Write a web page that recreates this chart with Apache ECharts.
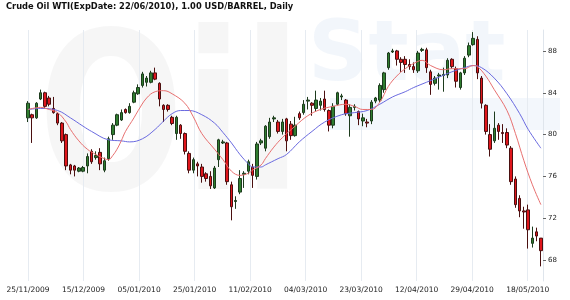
<!DOCTYPE html>
<html><head><meta charset="utf-8">
<script src="https://cdn.jsdelivr.net/npm/echarts@6/dist/echarts.min.js"></script>
<style>html,body{margin:0;padding:0;background:#fff}#c{width:570px;height:300px}</style>
</head><body><div id="c"></div>
<script>
const titleText = 'Crude Oil WTI(ExpDate: 22/06/2010), 1.00 USD/BARREL, Daily';
const dates = ['25/11/2009','27/11/2009','30/11/2009','01/12/2009','02/12/2009','03/12/2009','04/12/2009','07/12/2009','08/12/2009','09/12/2009',
'10/12/2009','11/12/2009','14/12/2009','15/12/2009','16/12/2009','17/12/2009','18/12/2009','21/12/2009','22/12/2009','23/12/2009',
'24/12/2009','28/12/2009','29/12/2009','30/12/2009','31/12/2009','04/01/2010','05/01/2010','06/01/2010','07/01/2010','08/01/2010',
'11/01/2010','12/01/2010','13/01/2010','14/01/2010','15/01/2010','19/01/2010','20/01/2010','21/01/2010','22/01/2010','25/01/2010',
'26/01/2010','27/01/2010','28/01/2010','29/01/2010','01/02/2010','02/02/2010','03/02/2010','04/02/2010','05/02/2010','08/02/2010',
'09/02/2010','10/02/2010','11/02/2010','12/02/2010','16/02/2010','17/02/2010','18/02/2010','19/02/2010','22/02/2010','23/02/2010',
'24/02/2010','25/02/2010','26/02/2010','01/03/2010','02/03/2010','03/03/2010','04/03/2010','05/03/2010','08/03/2010','09/03/2010',
'10/03/2010','11/03/2010','12/03/2010','15/03/2010','16/03/2010','17/03/2010','18/03/2010','19/03/2010','22/03/2010','23/03/2010',
'24/03/2010','25/03/2010','26/03/2010','29/03/2010','30/03/2010','31/03/2010','01/04/2010','05/04/2010','06/04/2010','07/04/2010',
'08/04/2010','09/04/2010','12/04/2010','13/04/2010','14/04/2010','15/04/2010','16/04/2010','19/04/2010','20/04/2010','21/04/2010',
'22/04/2010','23/04/2010','26/04/2010','27/04/2010','28/04/2010','29/04/2010','30/04/2010','03/05/2010','04/05/2010','05/05/2010',
'06/05/2010','07/05/2010','10/05/2010','11/05/2010','12/05/2010','13/05/2010','14/05/2010','17/05/2010','18/05/2010','19/05/2010',
'20/05/2010','21/05/2010'];
const open = [81.6,81.9,81.6,83.4,84.0,83.5,82.5,82.0,81.1,80.0,
77.1,77.0,76.5,76.5,77.0,78.4,77.8,78.3,76.6,77.7,
80.0,80.9,81.4,82.4,82.1,83.1,83.9,84.7,85.0,85.0,
85.9,84.9,82.8,82.8,81.65,80.1,80.9,80.1,78.2,76.6,
77.2,76.9,76.25,76.0,74.9,77.6,79.2,79.2,75.2,73.6,
74.5,76.2,76.5,76.9,76.0,79.2,78.7,79.8,81.5,81.2,
80.3,81.5,81.0,79.9,82.0,82.1,83.2,83.0,82.5,82.8,
83.4,82.3,80.9,82.9,83.6,83.3,81.8,82.6,82.2,81.3,
81.2,81.3,83.2,83.3,84.3,86.4,87.9,88.0,87.2,87.2,
86.7,86.5,86.1,88.05,88.1,86.0,84.9,85.6,85.65,85.7,
87.2,86.3,84.5,85.9,87.6,88.6,89.1,85.4,82.8,80.0,
79.4,80.9,80.2,80.2,78.7,75.75,73.9,72.7,72.8,69.6,
70.7,70.1];
const close = [83.0,81.6,83.0,84.0,82.7,82.9,82.1,81.1,79.4,77.0,
76.6,76.6,76.8,76.85,77.9,77.4,78.0,77.2,77.5,79.6,
80.9,81.9,82.1,82.1,82.7,84.0,84.5,85.8,85.4,85.9,
85.3,83.4,82.4,82.4,81.06,81.65,80.1,78.4,76.6,77.6,
77.0,76.0,75.8,75.1,76.8,79.5,79.3,75.5,73.1,73.7,
75.8,76.3,77.4,76.1,79.1,79.4,80.8,81.2,81.6,80.3,
81.2,79.4,79.9,80.9,81.6,82.9,83.3,82.8,83.3,83.2,
82.4,80.9,82.7,84.0,83.7,82.0,82.6,82.7,81.5,81.6,
81.1,83.1,83.5,84.7,85.9,87.8,88.0,87.2,86.9,86.7,
86.5,86.2,87.8,88.15,86.4,84.8,85.4,85.7,85.75,87.1,
86.5,85.1,85.9,87.3,88.5,89.2,85.9,83.0,80.3,78.6,
80.6,80.3,80.1,79.0,75.5,73.3,72.7,72.6,70.9,70.1,
70.3,68.9];
const low = [81.2,79.2,81.5,83.3,82.5,82.7,82.0,80.9,79.2,76.6,
76.2,76.0,76.4,76.4,76.3,77.2,77.6,76.6,76.4,77.5,
79.5,80.8,81.3,82.0,82.0,83.0,83.8,84.5,84.6,84.9,
85.2,82.7,81.2,82.2,80.9,79.5,79.6,78.1,76.3,76.3,
76.0,75.4,75.5,74.8,74.8,76.9,79.1,75.2,71.8,72.9,
74.3,74.9,76.2,74.9,75.7,79.0,78.4,79.6,81.2,80.1,
80.0,78.4,79.5,79.8,81.4,81.9,82.4,81.8,82.2,82.3,
82.2,80.3,80.6,82.8,83.3,81.8,79.8,82.3,80.9,80.8,
80.7,81.0,83.0,83.1,84.0,86.2,87.8,86.6,86.0,85.9,
86.2,85.9,85.9,87.9,85.9,83.8,84.7,84.3,84.1,85.4,
86.3,84.5,84.3,85.7,87.4,88.5,85.3,82.5,80.0,77.9,
79.2,79.5,79.2,78.7,75.2,73.0,72.1,71.0,69.1,69.2,
69.8,67.4];
const high = [83.2,82.0,83.1,84.3,84.1,83.7,83.6,82.1,81.2,80.1,
77.2,77.1,76.9,77.0,78.2,78.6,78.4,78.7,77.8,79.8,
81.1,82.0,82.4,82.5,83.0,84.2,84.8,86.0,85.6,86.1,
86.4,85.0,82.9,82.9,81.8,81.8,81.0,80.2,78.4,77.8,
77.4,77.2,76.4,76.5,77.0,79.6,79.5,79.3,75.5,74.1,
76.6,76.5,77.6,77.2,79.3,79.6,80.9,81.6,81.8,81.4,
81.5,81.6,81.3,81.7,82.2,83.3,83.6,83.1,84.2,83.5,
84.2,82.4,83.0,84.1,83.9,83.4,82.9,82.9,82.3,82.0,
81.5,83.3,83.6,84.9,86.0,87.9,88.2,88.1,87.4,87.5,
87.2,86.9,88.0,88.3,88.3,86.2,85.6,85.9,86.4,87.3,
87.3,86.5,86.0,87.5,88.8,89.8,89.4,85.6,82.9,81.0,
82.2,81.1,81.0,80.6,78.9,76.0,74.2,73.1,73.3,71.2,
71.1,70.1];
// moving averages read at sample candle indices: [candle index, value]
const maRed = [[0,82.4],[3,82.6],[5,82.4],[7,82.1],[9,81.2],[10,80.5],[12,79.4],[14,78.6],[16,78.1],[18,77.7],[19,77.6],[20,78.0],[21,78.6],[22,79.4],[23,80.3],[25,81.6],[26,82.3],[28,83.5],[30,84.1],[32,84.2],[34,83.9],[37,83.0],[39,81.7],[41,80.1],[44,78.6],[46,77.6],[48,76.5],[50,76.1],[52,76.3],[53,76.6],[55,77.1],[56,77.7],[58,78.8],[60,79.7],[63,80.8],[66,81.8],[69,82.4],[72,82.7],[75,82.9],[77,82.7],[79,82.4],[81,82.4],[83,83.1],[85,84.6],[87,85.6],[89,86.3],[91,86.8],[93,87.1],[95,86.6],[98,86.2],[100,86.3],[103,86.3],[105,86.6],[106,86.5],[108,85.6],[110,84.3],[113,82.3],[115,80.1],[117,77.5],[119,75.2],[121,73.3]];
const maBlue = [[0,82.4],[3,82.5],[7,82.3],[10,81.6],[13,80.8],[15,80.3],[19,79.5],[22,79.4],[24,79.3],[27,79.6],[30,80.5],[32,81.3],[34,82.0],[36,82.3],[38,82.3],[41,81.9],[44,81.1],[46,80.2],[48,79.2],[50,78.1],[52,77.2],[53,76.9],[55,76.9],[56,77.1],[59,77.7],[61,78.1],[64,79.3],[67,80.3],[70,81.2],[74,81.9],[77,82.1],[80,82.3],[83,82.9],[86,83.6],[89,84.1],[91,84.5],[94,85.0],[97,85.5],[100,86.0],[103,86.4],[105,86.6],[107,86.4],[110,85.4],[113,83.9],[116,82.0],[118,80.5],[121,78.7]];
const yLabels = [68,72,76,80,84,88];
const labelStep = 13.1;

const candles = dates.map((d, i) => [i, open[i], close[i], low[i], high[i]]);
const chart = echarts.init(document.getElementById('c'), null, {renderer: 'canvas'});
const font = 'DejaVu Sans';
chart.setOption({
  animation: false,
  backgroundColor: '#ffffff',
  title: {text: titleText, left: 6, top: 3, padding: 0,
    textStyle: {fontFamily: font, fontSize: 8.3, fontWeight: 'bold', color: '#111'}},
  graphic: [
    {type: 'text', z: 0, silent: true, left: 38, top: 22, scaleX: 0.78,
      style: {text: 'Oil', font: 'bold 220px "DejaVu Sans"', fill: 'rgba(0,0,0,0.035)'}},
    {type: 'rect', z: 0, silent: true, shape: {x: 330, y: 98, width: 230, height: 32}, style: {fill: 'rgba(90,140,210,0.07)'}},
    {type: 'text', z: 0, silent: true, left: 308, top: 16,
      style: {text: 'Stat', font: 'bold 84px "DejaVu Sans"', fill: 'rgba(90,140,210,0.08)'}}
  ],
  grid: {left: 28, right: 27, top: 30, bottom: 19, outerBoundsMode: 'none'},
  xAxis: {
    type: 'value', min: 0, max: 121.5, interval: labelStep,
    axisLine: {show: false, onZero: false}, axisTick: {show: false},
    splitLine: {show: true, lineStyle: {color: '#e6ebf1', width: 1}},
    axisLabel: {margin: 5, fontSize: 7.5, color: '#222', fontFamily: font, showMaxLabel: false,
      formatter: function (v) {
        const k = v / labelStep;
        if (Math.abs(k - Math.round(k)) > 1e-6) return '';
        return dates[Math.round(v)] || '';
      }}
  },
  yAxis: {
    type: 'value', position: 'right', min: 66, max: 90,
    axisLine: {show: true, onZero: false, lineStyle: {color: '#dfe5ec'}},
    axisTick: {show: true, inside: false, length: 3, customValues: yLabels, lineStyle: {color: '#666'}},
    axisLabel: {customValues: yLabels, margin: 5, fontSize: 7, color: '#222', fontFamily: font},
    splitLine: {show: false}
  },
  series: [
    {type: 'candlestick', data: candles, encode: {x: 0, y: [1, 2, 3, 4]}, barWidth: 3, clip: false,
      itemStyle: {color: '#2f7d2f', color0: '#e0161c', borderColor: '#1d3b1d', borderColor0: '#4a1010', borderWidth: 1}},
    {type: 'line', data: maBlue, smooth: 0.4, symbol: 'none', lineStyle: {color: '#6a6ae0', width: 1}},
    {type: 'line', data: maRed, smooth: 0.4, symbol: 'none', lineStyle: {color: '#e87070', width: 1}}
  ]
});
</script></body></html>
